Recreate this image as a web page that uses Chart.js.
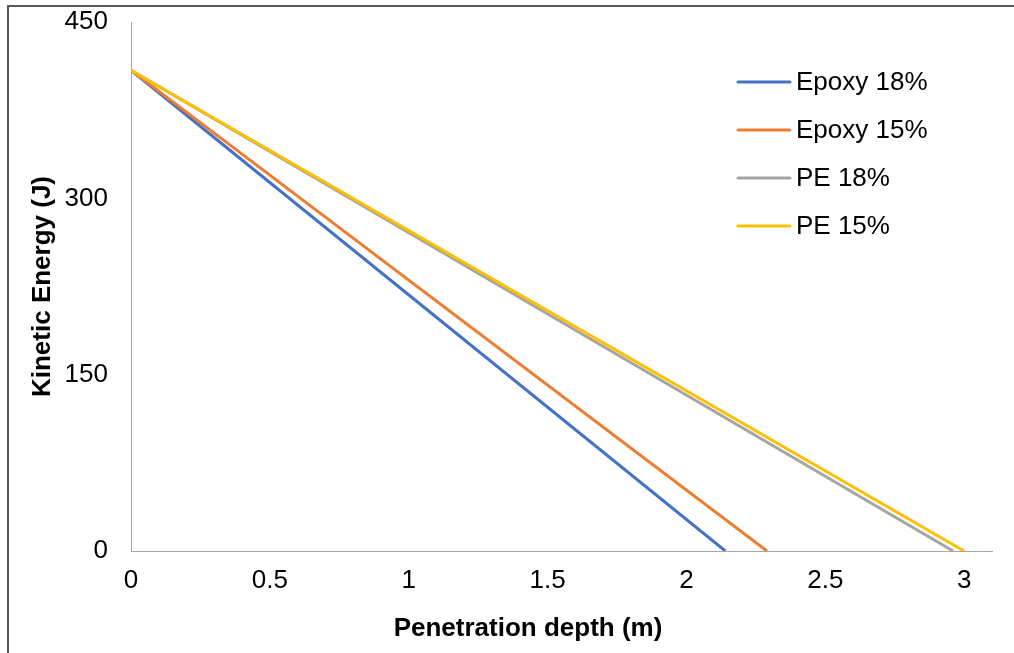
<!DOCTYPE html>
<html>
<head>
<meta charset="utf-8">
<script src="https://cdn.jsdelivr.net/npm/chart.js@4.4.1/dist/chart.umd.min.js"></script>
<style>
  html, body { margin: 0; padding: 0; background: #fff; }
  #wrap { position: relative; width: 1014px; height: 653px; overflow: hidden; }
  #frame { position: absolute; left: 7px; top: 5px; width: 1100px; height: 700px;
           border-left: 2px solid #595959; border-top: 2px solid #595959; }
  canvas { position: absolute; left: 0; top: 0; }
</style>
</head>
<body>
<div id="wrap">
  <div id="frame"></div>
  <canvas id="chart" width="1014" height="653"></canvas>
</div>
<script>
// series: every line starts at the same energy and ends at 0 J
const seriesNames = ['Epoxy 18%', 'Epoxy 15%', 'PE 18%', 'PE 15%'];
const startEnergy = [409, 409, 409, 409];
const endDepth = [2.14, 2.29, 2.96, 3.0];
const seriesColors = ['#4472C4', '#ED7D31', '#A5A5A5', '#FFC000'];
const xTicks = [0, 0.5, 1, 1.5, 2, 2.5, 3];
const yTicks = [0, 150, 300, 450];

const FONT = "'Liberation Sans', Arial, sans-serif";
const FS = 26;

const datasets = seriesNames.map((name, i) => ({
  label: name,
  data: [{ x: 0, y: startEnergy[i] }, { x: endDepth[i], y: 0 }],
  borderColor: seriesColors[i],
  backgroundColor: seriesColors[i],
  borderWidth: 3,
  showLine: true,
  pointRadius: 0,
  fill: false,
  order: seriesNames.length - i   // later series on top, like Excel
}));

// legend + x title drawn by hand so they sit where the original has them
const extras = {
  id: 'extras',
  afterDraw(chart) {
    const ctx = chart.ctx;
    ctx.save();
    ctx.font = FS + 'px ' + FONT;
    ctx.textBaseline = 'middle';
    ctx.lineCap = 'round';
    seriesNames.forEach((name, i) => {
      const y = 82 + i * 48;
      ctx.strokeStyle = seriesColors[i];
      ctx.lineWidth = 3;
      ctx.beginPath();
      ctx.moveTo(738, y);
      ctx.lineTo(790, y);
      ctx.stroke();
      ctx.fillStyle = '#000';
      ctx.fillText(name, 796, y + 1);
    });
    ctx.font = 'bold ' + FS + 'px ' + FONT;
    ctx.textAlign = 'center';
    ctx.fillText('Penetration depth (m)', 528, 629);
    ctx.restore();
  }
};

new Chart(document.getElementById('chart').getContext('2d'), {
  type: 'scatter',
  data: { datasets },
  options: {
    responsive: false,
    animation: false,
    devicePixelRatio: 1,
    layout: { padding: { left: 0, top: 22, right: 22, bottom: 0 } },
    plugins: { legend: { display: false }, tooltip: { enabled: false } },
    scales: {
      x: {
        type: 'linear',
        min: 0,
        max: 3.1,
        afterBuildTicks: (scale) => { scale.ticks = xTicks.map(v => ({ value: v })); },
        afterFit: (scale) => { scale.height = 102; scale.paddingLeft = 0; scale.paddingRight = 0; },
        grid: { display: false, drawTicks: false },
        border: { display: true, color: '#A6A6A6', width: 1 },
        ticks: {
          color: '#000', padding: 14, maxRotation: 0,
          callback: (v) => String(v),
          font: { family: FONT, size: FS }
        }
      },
      y: {
        type: 'linear',
        min: 0,
        max: 450,
        afterBuildTicks: (scale) => { scale.ticks = yTicks.map(v => ({ value: v })); },
        afterFit: (scale) => { scale.width = 131; scale.paddingTop = 0; scale.paddingBottom = 0; },
        grid: { display: false, drawTicks: false },
        border: { display: true, color: '#A6A6A6', width: 1 },
        ticks: { color: '#000', padding: 23, callback: (v) => String(v), font: { family: FONT, size: FS } },
        title: {
          display: true,
          text: 'Kinetic Energy (J)',
          color: '#000',
          padding: { top: 27, bottom: 0 },
          font: { family: FONT, size: FS, weight: 'bold' }
        }
      }
    }
  },
  plugins: [extras]
});
</script>
</body>
</html>
